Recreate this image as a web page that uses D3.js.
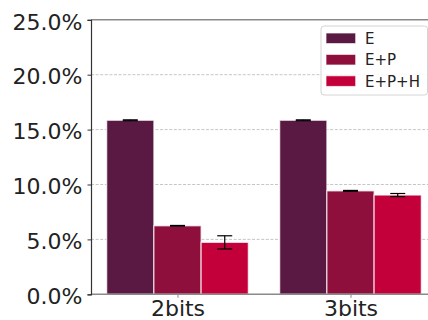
<!DOCTYPE html>
<html>
<head>
<meta charset="utf-8">
<script src="https://cdn.jsdelivr.net/npm/d3@7"></script>
<style>
  html, body { margin: 0; padding: 0; background: #fff; }
  svg { display: block; font-family: "DejaVu Sans", sans-serif; }
</style>
</head>
<body>
<svg id="chart" width="428" height="320"></svg>
<script>
// ---- data ----
const categories = ["2bits", "3bits"];
const seriesNames = ["E", "E+P", "E+P+H"];
const seriesColors = ["#5a1942", "#8e0e3c", "#c3003a"];
const valuesE = [0.1585, 0.1585];
const valuesEP = [0.0624, 0.0942];
const valuesEPH = [0.0473, 0.0904];
const errorsE = [0.0004, 0.0004];
const errorsEP = [0.0003, 0.0004];
const errorsEPH = [0.0060, 0.0014];
const yTicks = [0, 0.05, 0.10, 0.15, 0.20, 0.25];

const seriesValues = [valuesE, valuesEP, valuesEPH];
const seriesErrors = [errorsE, errorsEP, errorsEPH];

// ---- layout ----
const svg = d3.select("#chart");
const mLeft = 91, mBottom = 294.3, mTop = 19.8, mRight = 437;
const barWidth = 0.273;

const x = d3.scaleLinear().domain([-0.5, 1.5]).range([mLeft, mRight]);
const y = d3.scaleLinear().domain([0, 0.25]).range([mBottom, mTop]);

// grid
svg.append("g").selectAll("line")
  .data(yTicks.filter(t => t > 0 && t < 0.25))
  .join("line")
  .attr("x1", mLeft).attr("x2", 428)
  .attr("y1", d => y(d)).attr("y2", d => y(d))
  .attr("stroke", "#b8b8b8").attr("stroke-width", 0.8)
  .attr("stroke-dasharray", "3,1.6");

// bars
const bars = [];
seriesValues.forEach((vals, si) => {
  vals.forEach((v, ci) => {
    bars.push({ si, ci, v, e: seriesErrors[si][ci], xc: ci + (si - 1) * barWidth });
  });
});

svg.append("g").selectAll("rect")
  .data(bars)
  .join("rect")
  .attr("x", d => x(d.xc - barWidth / 2))
  .attr("width", d => x(barWidth) - x(0))
  .attr("y", d => y(d.v))
  .attr("height", d => y(0) - y(d.v))
  .attr("fill", d => seriesColors[d.si])
  .attr("stroke", "#ffffff")
  .attr("stroke-opacity", 0.7)
  .attr("stroke-width", 1.3);

// error bars
const eg = svg.append("g").attr("stroke", "#000").attr("stroke-width", 1.2);
const capHalf = 7.5;
bars.forEach(d => {
  const cx = x(d.xc);
  eg.append("line").attr("x1", cx).attr("x2", cx)
    .attr("y1", y(d.v - d.e)).attr("y2", y(d.v + d.e));
  [d.v - d.e, d.v + d.e].forEach(t => {
    eg.append("line").attr("x1", cx - capHalf).attr("x2", cx + capHalf)
      .attr("y1", y(t)).attr("y2", y(t));
  });
});

// spines
svg.append("line").attr("x1", mLeft).attr("x2", 428).attr("y1", mTop).attr("y2", mTop)
  .attr("stroke", "#8a8a8a").attr("stroke-width", 1.4);
svg.append("line").attr("x1", mLeft).attr("x2", 428).attr("y1", mBottom).attr("y2", mBottom)
  .attr("stroke", "#8a8a8a").attr("stroke-width", 1.4);

// y axis
const yAxis = d3.axisLeft(y).tickValues(yTicks).tickSize(3.5).tickPadding(5)
  .tickFormat(d3.format(".1%"));
const yg = svg.append("g").attr("transform", `translate(${mLeft},0)`).call(yAxis);
yg.select(".domain").attr("stroke", "#333").attr("stroke-width", 1.2);
yg.selectAll(".tick line").attr("stroke", "#333");
yg.selectAll(".tick text").attr("font-size", 22).attr("fill", "#222")
  .attr("font-family", "DejaVu Sans").attr("dy", "0.42em");

// x axis
const xAxis = d3.axisBottom(x).tickValues([0, 1]).tickSize(3.5).tickPadding(3)
  .tickFormat(i => categories[i]);
const xg = svg.append("g").attr("transform", `translate(0,${mBottom})`).call(xAxis);
xg.select(".domain").remove();
xg.selectAll(".tick line").attr("stroke", "#8a8a8a");
xg.selectAll(".tick text").attr("font-size", 22).attr("fill", "#222")
  .attr("font-family", "DejaVu Sans");

// legend
const lg = svg.append("g");
lg.append("rect").attr("x", 321).attr("y", 26).attr("width", 106.5).attr("height", 69)
  .attr("rx", 3).attr("fill", "#fff").attr("fill-opacity", 0.85)
  .attr("stroke", "#d4d4d4").attr("stroke-width", 1);
seriesNames.forEach((name, i) => {
  const cy = 38.3 + i * 21.4;
  lg.append("rect").attr("x", 326).attr("y", cy - 5.3).attr("width", 29.7).attr("height", 10.6)
    .attr("fill", seriesColors[i]).attr("stroke", "#fff").attr("stroke-opacity", 0.7).attr("stroke-width", 1);
  lg.append("text").attr("x", 365).attr("y", cy).attr("dy", "0.36em")
    .attr("font-size", 15).attr("fill", "#222").text(name);
});
</script>
</body>
</html>
